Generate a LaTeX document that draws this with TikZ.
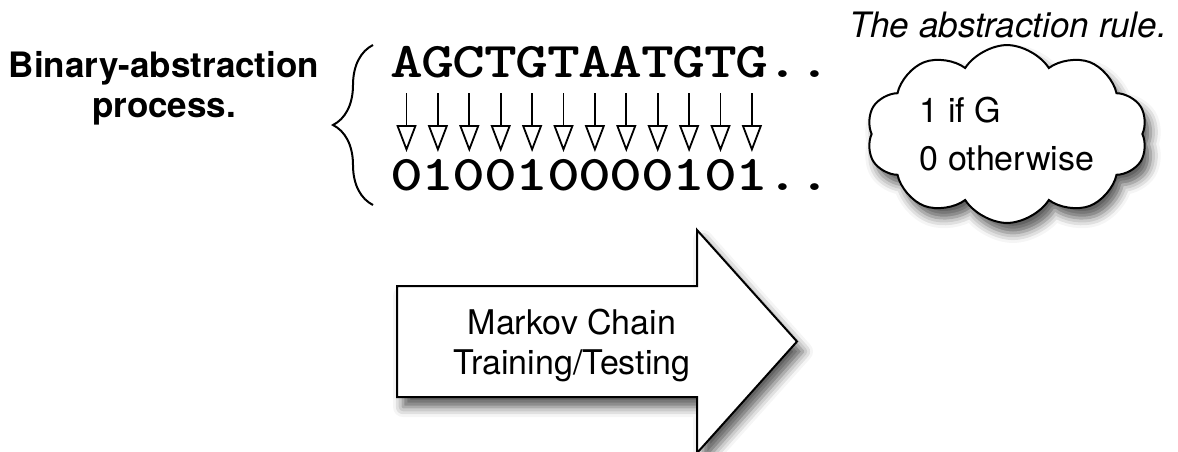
\documentclass[tikz,border=0pt]{standalone}
\usepackage{fontspec}
\setmainfont{TeX Gyre Heros}
\usepackage{graphicx}
\usetikzlibrary{arrows.meta,shapes.symbols,shadows.blur,decorations.pathreplacing}

\newcommand{\seqch}[1]{\scalebox{1.25}[1]{#1}}

\begin{document}
\begin{tikzpicture}[x=0.5pt,y=-0.5pt,line width=1pt]
\tikzset{
  seq/.style={inner sep=0pt,text height=15pt,text depth=0pt,font=\ttfamily\bfseries\fontsize{25}{25}\selectfont},
  absarr/.style={-{Triangle[open,length=13.5pt,width=10pt]},line width=0.9pt,shorten <=7.5pt,shorten >=3.5pt},
  rulecloud/.style={cloud,cloud puffs=10,cloud puff arc=115,aspect=1.9,draw,fill=white,minimum width=140.5pt,minimum height=74pt,align=left,font=\fontsize{17}{24}\selectfont},
  shade/.style={blur shadow={shadow xshift=3pt,shadow yshift=-5pt,shadow blur radius=5pt,shadow opacity=65}}
}
\useasboundingbox (0,0) rectangle (1178,451);
\node (bap) [align=center,font=\bfseries\fontsize{17.5}{20}\selectfont] at (164,88) {Binary-abstraction\\process.};
% sequence and its binary version
\foreach \c/\d [count=\i] in {A/0,G/1,C/0,T/0,G/1,T/0,A/0,A/0,T/0,G/1,T/0,G/1,./.,./.}{
  \node (s\i) [seq,anchor=base] at ({406.5+31.4*(\i-1)},77) {\seqch{\c}};
  \node (b\i) [seq,anchor=base] at ({406.5+31.4*(\i-1)},190) {\seqch{\d}};
}
\foreach \i in {1,...,12} \draw[absarr] (s\i.south) -- (b\i.north);
\draw[decorate,decoration={brace,amplitude=20pt}] (373,205) -- (373,45);
% the rule
\node (rt) [anchor=base,font=\itshape\fontsize{17.5}{20}\selectfont] at (1008,37) {The abstraction rule.};
\node (rule) [rulecloud,shade] at (1007,134) {1 if G\\0 otherwise};
% big arrow
\path[draw,fill=white,shade] (397,286) -- (697,286) -- (697,230) -- (797,341.5) -- (697,453) -- (697,397) -- (397,397) -- cycle;
\node (mc) [align=center,font=\fontsize{17}{20}\selectfont] at (572,345) {Markov Chain\\Training/Testing};
\end{tikzpicture}
\end{document}
